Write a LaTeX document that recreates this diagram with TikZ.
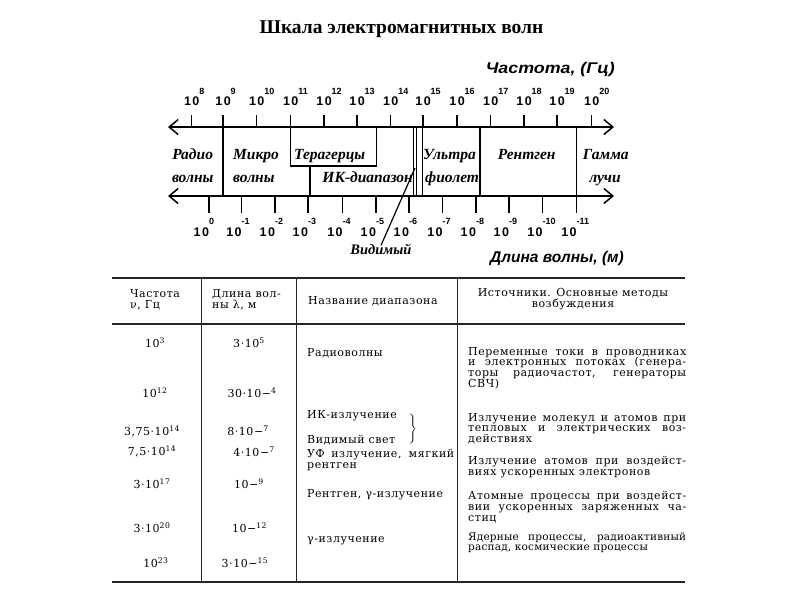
\documentclass[tikz,border=0pt]{standalone}
\usepackage{fontspec}
\setmainfont{Liberation Serif}
\newfontfamily\scalefont{Liberation Sans}
\newfontfamily\tabfont{DejaVu Serif}[LetterSpace=5]
\usetikzlibrary{arrows.meta}

% powers of ten on the two scales
\newcommand{\tp}[1]{1\kern1.5pt0\rlap{\raisebox{10.5pt}{\fontsize{9}{9}\selectfont #1}}}
\newcommand{\bp}[1]{\llap{1\kern1.5pt0}\rlap{\raisebox{12pt}{\fontsize{9}{9}\selectfont #1}}}
\newcommand{\su}[1]{\textsuperscript{#1}}

\begin{document}
\begin{tikzpicture}[
    x=1pt, y=-1pt,
    scaleaxis/.style={{Straight Barb[length=9pt,width=15pt]}-{Straight Barb[length=9pt,width=15pt]}, line width=1.5pt},
    scaletick/.style={line width=1.3pt},
    band/.style={line width=1.3pt},
    toppow/.style={font=\scalefont\bfseries\fontsize{12.5}{12.5}\selectfont, anchor=base, inner sep=0pt, yshift=10pt},
    botpow/.style={font=\scalefont\bfseries\fontsize{12.5}{12.5}\selectfont, anchor=base, inner sep=0pt, yshift=-23pt},
    axisname/.style={font=\scalefont\bfseries\itshape\fontsize{15.5}{15.5}\selectfont, inner sep=0pt},
    bandname/.style={font=\bfseries\itshape\fontsize{15.5}{15.5}\selectfont, anchor=base, inner sep=0pt},
    tabrule/.style={line width=1.8pt, black!85},
    tabcol/.style={line width=1.3pt, black!85},
    cell/.style={font=\tabfont\fontsize{11}{10.8}\selectfont, text=black, anchor=base, inner sep=0pt},
    note/.style={cell, anchor=base west, text width=218pt, align=justify}
]
\useasboundingbox[fill=white] (0,0) rectangle (800,600);

% Title
\node[font=\bfseries\fontsize{19.5}{19.5}\selectfont, anchor=base] (title) at (401.5,33) {Шкала электромагнитных волн};

% Frequency scale
\coordinate (fl) at (168,127);
\coordinate (fr) at (614,127);
\draw[scaleaxis] (fl) -- (fr);
\node[axisname, anchor=base east] (fname) at (615,73.5) {\scalebox{1.15}[1]{Частота, (Гц)}};
\draw[scaletick] (191.7,127) -- ++(0,-12) node[toppow] (f8) {\tp{8}};
\draw[scaletick] (223,127) -- ++(0,-12) node[toppow] (f9) {\tp{9}};
\draw[scaletick] (256.7,127) -- ++(0,-12) node[toppow] (f10) {\tp{10}};
\draw[scaletick] (290.7,127) -- ++(0,-12) node[toppow] (f11) {\tp{11}};
\draw[scaletick] (324,127) -- ++(0,-12) node[toppow] (f12) {\tp{12}};
\draw[scaletick] (357,127) -- ++(0,-12) node[toppow] (f13) {\tp{13}};
\draw[scaletick] (390.7,127) -- ++(0,-12) node[toppow] (f14) {\tp{14}};
\draw[scaletick] (423,127) -- ++(0,-12) node[toppow] (f15) {\tp{15}};
\draw[scaletick] (457,127) -- ++(0,-12) node[toppow] (f16) {\tp{16}};
\draw[scaletick] (490.7,127) -- ++(0,-12) node[toppow] (f17) {\tp{17}};
\draw[scaletick] (524,127) -- ++(0,-12) node[toppow] (f18) {\tp{18}};
\draw[scaletick] (557,127) -- ++(0,-12) node[toppow] (f19) {\tp{19}};
\draw[scaletick] (591.7,127) -- ++(0,-12) node[toppow] (f20) {\tp{20}};

% Wavelength scale
\coordinate (wl) at (168,196);
\coordinate (wr) at (614,196);
\draw[scaleaxis] (wl) -- (wr);
\node[axisname, anchor=base west] (wname) at (490,262) {Длина волны, (м)};
\draw[scaletick] (209,196) -- ++(0,17) node[botpow] (w0) {\bp{0}};
\draw[scaletick] (241.7,196) -- ++(0,17) node[botpow] (w1) {\bp{-1}};
\draw[scaletick] (275,196) -- ++(0,17) node[botpow] (w2) {\bp{-2}};
\draw[scaletick] (308,196) -- ++(0,17) node[botpow] (w3) {\bp{-3}};
\draw[scaletick] (342.7,196) -- ++(0,17) node[botpow] (w4) {\bp{-4}};
\draw[scaletick] (376,196) -- ++(0,17) node[botpow] (w5) {\bp{-5}};
\draw[scaletick] (409,196) -- ++(0,17) node[botpow] (w6) {\bp{-6}};
\draw[scaletick] (442.7,196) -- ++(0,17) node[botpow] (w7) {\bp{-7}};
\draw[scaletick] (476,196) -- ++(0,17) node[botpow] (w8) {\bp{-8}};
\draw[scaletick] (509,196) -- ++(0,17) node[botpow] (w9) {\bp{-9}};
\draw[scaletick] (542.7,196) -- ++(0,17) node[botpow] (w10) {\bp{-10}};
\draw[scaletick] (576.7,196) -- ++(0,17) node[botpow] (w11) {\bp{-11}};

% Band borders
\draw[band] (223,127) -- (223,196);
\draw[band] (290.7,127) -- (290.7,166) -- (376.7,166) -- (376.7,127);
\draw[band] (310,166) -- (310,196);
\draw[band] (413.3,127) -- (413.3,196);
\draw[band] (416.7,127) -- (416.7,196);
\draw[band] (422.7,127) -- (422.7,196);
\draw[band] (480,127) -- (480,196);
\draw[band] (576.7,127) -- (576.7,196);

% Band names
\node[bandname] (radio) at (192.7,159) {Радио};
\node[bandname] (radiob) at (192.7,182) {волны};
\node[bandname, anchor=base west] (micro) at (233,159) {Микро};
\node[bandname, anchor=base west] (microb) at (233,182) {волны};
\node[bandname, anchor=base west] (thz) at (294,159) {Терагерцы};
\node[bandname, anchor=base east] (ir) at (413,182) {ИК-диапазон};
\node[bandname, anchor=base west] (uv) at (423,159) {Ультра};
\node[bandname, anchor=base west] (uvb) at (425,182) {фиолет};
\node[bandname] (xray) at (526.7,159) {Рентген};
\node[bandname, anchor=base west] (gamma) at (582.7,159) {Гамма};
\node[bandname] (gammab) at (605,182) {лучи};

% Visible light pointer
\node[bandname, font=\bfseries\itshape\fontsize{14.5}{14.5}\selectfont] (vis) at (381,254) {Видимый};
\coordinate (vistip) at (415,168);
\draw[line width=1.2pt] ([yshift=-2pt]vis.north) -- (vistip);

% Table rules
\draw[tabrule] (112,278) -- (685,278);
\draw[tabrule] (112,324) -- (685,324);
\draw[tabrule, line width=2.2pt] (112,582) -- (685,582);
\draw[tabcol] (201.7,278) -- (201.7,582);
\draw[tabcol] (296.7,278) -- (296.7,582);
\draw[tabcol] (457.3,278) -- (457.3,582);

% Table header
\node[cell, anchor=base west, align=left] (hfreq) at (130,308.5) {Частота\\ν, Гц};
\node[cell, anchor=base west, align=left] (hwave) at (212,308.5) {Длина вол-\\ны λ, м};
\node[cell, anchor=base west] (hname) at (308,304.5) {Название диапазона};
\node[cell, align=center] (hsrc) at (573,307) {Источники. Основные методы\\возбуждения};

% Frequency column
\node[cell] (n1) at (155,347) {10\su{3}};
\node[cell] (n2) at (155,397) {10\su{12}};
\node[cell] (n3) at (152,435) {3,75·10\su{14}};
\node[cell] (n4) at (152,455) {7,5·10\su{14}};
\node[cell] (n5) at (152,488.5) {3·10\su{17}};
\node[cell] (n6) at (152,532) {3·10\su{20}};
\node[cell] (n7) at (156,567) {10\su{23}};

% Wavelength column
\node[cell] (l1) at (249,347) {3·10\su{5}};
\node[cell] (l2) at (252,397) {30·10−\su{4}};
\node[cell] (l3) at (248,435) {8·10−\su{7}};
\node[cell] (l4) at (254,456) {4·10−\su{7}};
\node[cell] (l5) at (249,488.5) {10−\su{9}};
\node[cell] (l6) at (249.5,532) {10−\su{12}};
\node[cell] (l7) at (245,567) {3·10−\su{15}};

% Range names
\node[cell, anchor=base west] (r1) at (307,356) {Радиоволны};
\node[cell, anchor=base west] (r2) at (307,418.5) {ИК-излучение};
\node[cell, anchor=base west] (r3) at (307,443.5) {Видимый свет};
\node[cell, anchor=base west, text width=147pt, align=justify] (r4) at (307,457.5) {УФ излучение, мягкий\linebreak рентген};
\node[cell, anchor=base west] (r5) at (307,497) {Рентген, γ-излучение};
\node[cell, anchor=base west] (r6) at (307,542.5) {γ-излучение};
\node[cell, anchor=center, font=\fontsize{11.5}{11.5}\selectfont] (brace) at (413,429) {$\Bigg\}$};

% Sources
\node[note] (s1) at (468,355) {Переменные токи в проводниках\linebreak и электронных потоках (генера-\linebreak торы радиочастот, генераторы\linebreak СВЧ)};
\node[note] (s2) at (468,421) {Излучение молекул и атомов при\linebreak тепловых и электрических воз-\linebreak действиях};
\node[note] (s3) at (468,464.5) {Излучение атомов при воздейст-\linebreak виях ускоренных электронов};
\node[note] (s4) at (468,499.5) {Атомные процессы при воздейст-\linebreak вии ускоренных заряженных ча-\linebreak стиц};
\node[note, font=\tabfont\fontsize{10.5}{10.8}\selectfont\addfontfeatures{LetterSpace=2}] (s5) at (468,540) {Ядерные процессы, радиоактивный\linebreak распад, космические процессы};

\end{tikzpicture}
\end{document}
